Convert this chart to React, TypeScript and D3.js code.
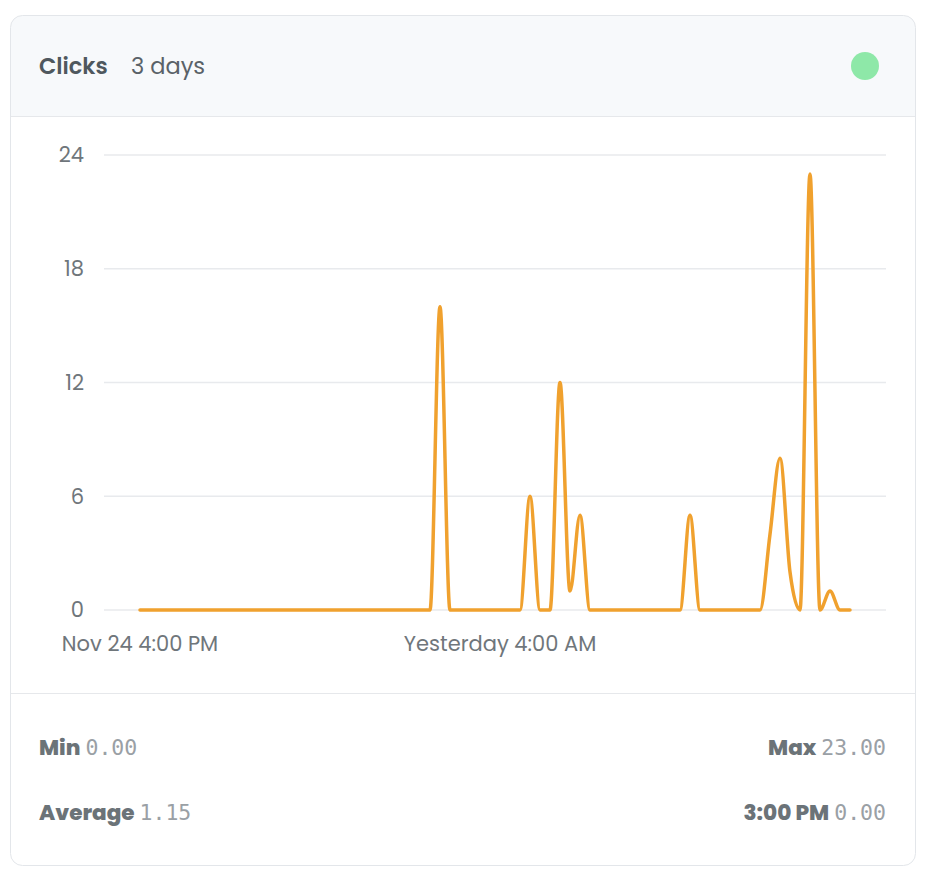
import React from "react";
import * as d3 from "d3";

const hours: number[] = Array.from({ length: 72 }, (_, i) => i);
// hourly click counts, Nov 24 4:00 PM → today 3:00 PM
const clicks: number[] = [
  0, 0, 0, 0, 0, 0, 0, 0, 0, 0,
  0, 0, 0, 0, 0, 0, 0, 0, 0, 0,
  0, 0, 0, 0, 0, 0, 0, 0, 0, 0,
  16, 0, 0, 0, 0, 0, 0, 0, 0, 6,
  0, 0, 12, 1, 5, 0, 0, 0, 0, 0,
  0, 0, 0, 0, 0, 5, 0, 0, 0, 0,
  0, 0, 0, 4, 8, 2, 0, 23, 0, 1,
  0, 0,
];
const yTicks: number[] = [0, 6, 12, 18, 24];
const xTickIndex: number[] = [0, 36];
const xTickLabels: string[] = ["Nov 24 4:00 PM", "Yesterday 4:00 AM"];

const FONT = "Poppins, 'Open Sans', Inter, sans-serif";
const MONO = "'DejaVu Sans Mono', 'Liberation Mono', monospace";

export default function App() {
  const W = 928, H = 880;
  const x = d3.scaleLinear().domain([0, 71]).range([140, 850]);
  const y = d3.scaleLinear().domain([0, 24]).range([610, 155]);
  const line = d3
    .line<number>()
    .x((_, i) => x(hours[i]))
    .y((d) => y(d))
    .curve(d3.curveMonotoneX);

  const minV = d3.min(clicks) ?? 0;
  const maxV = d3.max(clicks) ?? 0;
  const avgV = d3.mean(clicks) ?? 0;
  const lastV = clicks[clicks.length - 1];

  const card = { x: 10.5, y: 15.5, w: 905, h: 850, r: 12 };
  const fs = 21;

  return (
    <div style={{ position: "absolute", left: 0, top: 0 }}>
      <svg width={W} height={H} style={{ display: "block", fontFamily: FONT }}>
        <defs>
          <clipPath id="cardClip">
            <rect x={card.x} y={card.y} width={card.w} height={card.h} rx={card.r} />
          </clipPath>
        </defs>
        <rect x={card.x} y={card.y} width={card.w} height={card.h} rx={card.r} fill="#ffffff" />
        <g clipPath="url(#cardClip)">
          <rect x={card.x} y={card.y} width={card.w} height={101} fill="#f7f9fb" />
        </g>
        <line x1={card.x} x2={card.x + card.w} y1={116.5} y2={116.5} stroke="#e6e8eb" />
        <line x1={card.x} x2={card.x + card.w} y1={693.5} y2={693.5} stroke="#e6e8eb" />
        <rect x={card.x} y={card.y} width={card.w} height={card.h} rx={card.r} fill="none" stroke="#e3e6ea" />

        {/* header */}
        <text x={39} y={74} fontSize={22.5} fontWeight={600} fill="#4f585e">Clicks</text>
        <text x={131} y={74} fontSize={22.5} fontWeight={400} fill="#5a6268">3 days</text>
        <circle cx={865} cy={66} r={14} fill="#8ee8a8" />

        {/* grid + y axis */}
        {yTicks.map((t) => (
          <g key={t}>
            <line x1={104} x2={886} y1={y(t)} y2={y(t)} stroke="#e8eaed" strokeWidth={1.5} />
            <text x={84} y={y(t)} dy="0.35em" textAnchor="end" fontSize={fs} fill="#6f767b">
              {t}
            </text>
          </g>
        ))}

        {/* x axis labels */}
        {xTickIndex.map((t, i) => (
          <text key={t} x={x(hours[t])} y={651} textAnchor="middle" fontSize={fs} fill="#6f767b">
            {xTickLabels[i]}
          </text>
        ))}

        {/* line */}
        <path d={line(clicks) ?? ""} fill="none" stroke="#f0a12e" strokeWidth={3.5} strokeLinejoin="round" strokeLinecap="round" />

        {/* footer stats */}
        <text x={39} y={755} fontSize={21.5}>
          <tspan fontWeight={800} fill="#6b7378">Min</tspan>
          <tspan fontFamily={MONO} fill="#9aa0a5" dx={5}>{minV.toFixed(2)}</tspan>
        </text>
        <text x={39} y={820} fontSize={21.5}>
          <tspan fontWeight={800} fill="#6b7378">Average</tspan>
          <tspan fontFamily={MONO} fill="#9aa0a5" dx={5}>{avgV.toFixed(2)}</tspan>
        </text>
        <text x={886} y={755} fontSize={21.5} textAnchor="end">
          <tspan fontWeight={800} fill="#6b7378">Max</tspan>
          <tspan fontFamily={MONO} fill="#9aa0a5" dx={5}>{maxV.toFixed(2)}</tspan>
        </text>
        <text x={886} y={820} fontSize={21.5} textAnchor="end">
          <tspan fontWeight={800} fill="#6b7378">3:00 PM</tspan>
          <tspan fontFamily={MONO} fill="#9aa0a5" dx={5}>{lastV.toFixed(2)}</tspan>
        </text>
      </svg>
    </div>
  );
}
